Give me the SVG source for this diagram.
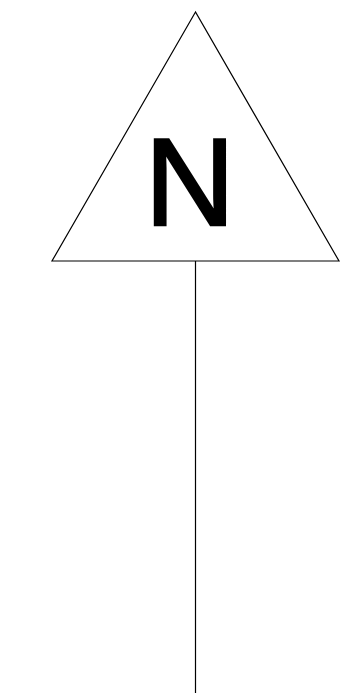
<svg xmlns="http://www.w3.org/2000/svg" width="350" height="698" viewBox="0 0 350 698">
<style>
.s{fill:none;stroke:#000;stroke-width:1.2}
.t{font-family:"Liberation Sans",Arial,sans-serif;font-size:125px;fill:#000;stroke:#000;stroke-width:2.4}
</style>
<rect width="350" height="698" fill="#fff"/>
<g id="north-sign">
<polygon class="s" points="195.5,12 52,261 339,261" fill="#fff"/>
<text class="t" x="190" y="224.8" text-anchor="middle">N</text>
</g>
<g id="connectors">
<line class="s" x1="195.5" y1="261" x2="195.5" y2="693"/>
</g>
</svg>
